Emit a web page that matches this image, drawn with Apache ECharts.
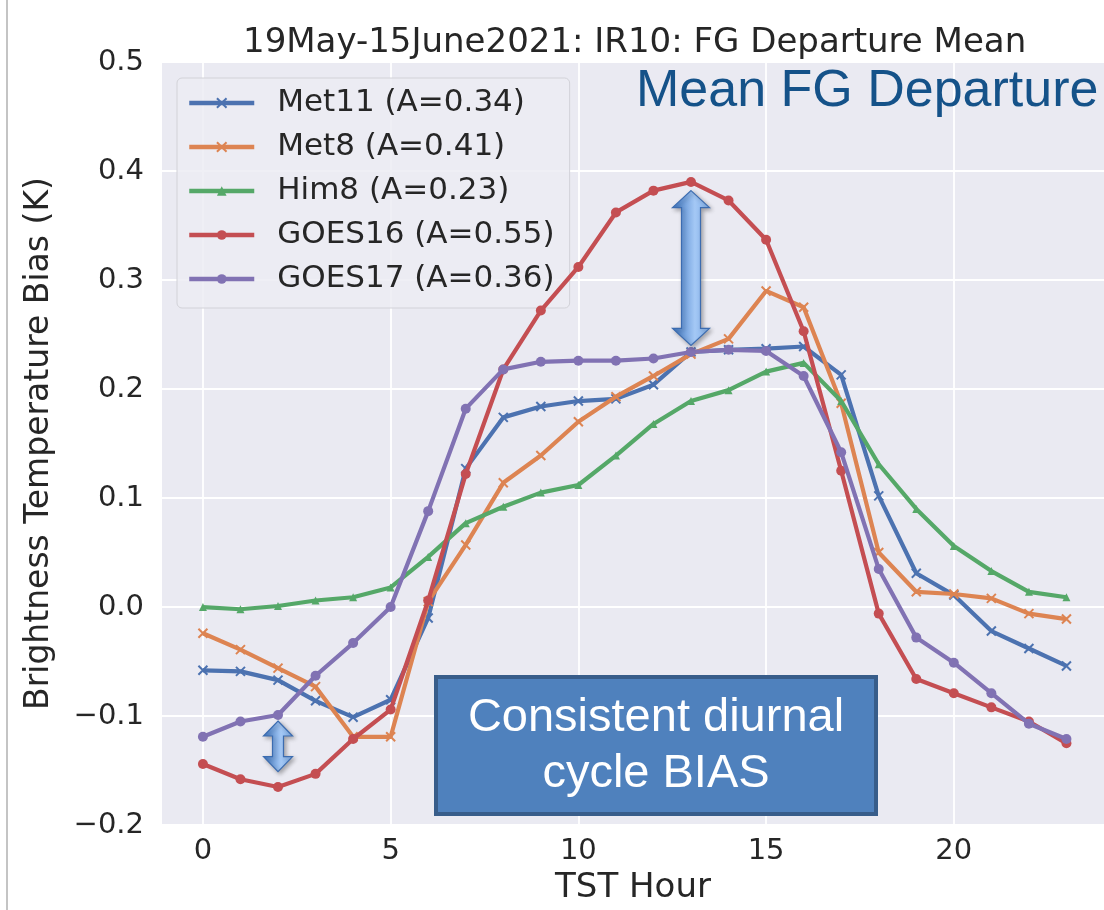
<!DOCTYPE html>
<html><head><meta charset="utf-8">
<script src="https://cdn.jsdelivr.net/npm/echarts@6/dist/echarts.min.js"></script>
<style>html,body{margin:0;padding:0;background:#fff}#c{width:1104px;height:910px}</style>
</head><body><div id="c"></div>
<script>
// ---- data ----
const hours = [0,1,2,3,4,5,6,7,8,9,10,11,12,13,14,15,16,17,18,19,20,21,22,23];
const met11  = [-0.058,-0.059,-0.067,-0.086,-0.101,-0.085,-0.010,0.127,0.174,0.184,0.189,0.191,0.204,0.234,0.236,0.237,0.239,0.213,0.102,0.031,0.011,-0.022,-0.038,-0.054];
const met8   = [-0.024,-0.039,-0.056,-0.073,-0.119,-0.119,0.005,0.057,0.114,0.139,0.170,0.193,0.212,0.232,0.246,0.290,0.275,0.187,0.050,0.014,0.012,0.008,-0.006,-0.011];
const him8   = [0.000,-0.002,0.001,0.006,0.009,0.018,0.046,0.077,0.092,0.105,0.112,0.139,0.168,0.189,0.199,0.216,0.224,0.189,0.131,0.090,0.056,0.033,0.014,0.009];
const goes16 = [-0.144,-0.158,-0.165,-0.153,-0.121,-0.094,0.006,0.122,0.218,0.272,0.312,0.362,0.382,0.390,0.373,0.337,0.253,0.125,-0.006,-0.066,-0.079,-0.092,-0.105,-0.125];
const goes17 = [-0.119,-0.105,-0.099,-0.063,-0.033,0.000,0.088,0.182,0.218,0.225,0.226,0.226,0.228,0.234,0.236,0.235,0.212,0.142,0.035,-0.028,-0.051,-0.079,-0.107,-0.121];
const seriesNames = ['Met11 (A=0.34)','Met8 (A=0.41)','Him8 (A=0.23)','GOES16 (A=0.55)','GOES17 (A=0.36)'];
const xTicks = [0,5,10,15,20];
const titleText = '19May-15June2021: IR10: FG Departure Mean';
const xName = 'TST Hour';
const yName = 'Brightness Temperature Bias (K)';
// annotation anchors (hour, top value, bottom value)
const bigArrow = [13, 0.382, 0.240];
const smallArrow = [2, -0.1045, -0.151];

const colors = ['#4C72B0','#DD8452','#55A868','#C44E52','#8172B3'];
const xSym = 'path://M0,0L10,10M10,0L0,10';
const symbols = [xSym, xSym, 'triangle', 'circle', 'circle'];
const symSizes = [9, 9, 8, 10, 10];
const values = [met11, met8, him8, goes16, goes17];

const chart = echarts.init(document.getElementById('c'), null, {renderer:'canvas'});
const FONT = 'DejaVu Sans';
const series = values.map((arr, k) => ({
  name: seriesNames[k],
  type: 'line',
  data: hours.map((h, i) => [h, arr[i]]),
  symbol: symbols[k],
  symbolSize: symSizes[k],
  showAllSymbol: true,
  lineStyle: {color: colors[k], width: 4.2},
  itemStyle: {color: colors[k], borderColor: colors[k], borderWidth: k < 2 ? 2 : 0},
  emphasis: {disabled: true},
  z: 2 + k
}));

const option = {
  animation: false,
  backgroundColor: '#ffffff',
  title: {
    text: titleText, left: 238, top: 21,
    textStyle: {fontFamily: FONT, fontSize: 34, fontWeight: 'normal', color: '#262626'}
  },
  grid: {left: 162, right: 0, top: 62, bottom: 77, show: true, backgroundColor: '#EAEAF2', borderWidth: 0},
  legend: {
    orient: 'vertical', left: 177, top: 78,
    padding: [8, 15, 12, 10],
    itemWidth: 65, itemHeight: 12, itemGap: 10,
    lineStyle: {width: 4.5},
    backgroundColor: 'rgba(236,236,243,0.85)', borderColor: '#D2D2D8', borderWidth: 1, borderRadius: 5,
    textStyle: {fontFamily: FONT, fontSize: 31, color: '#262626', lineHeight: 34, padding: [0, 0, 0, 18]},
    data: seriesNames
  },
  xAxis: {
    type: 'value', min: -1.09, max: 24,
    name: xName, nameLocation: 'middle', nameGap: 38,
    nameTextStyle: {fontFamily: FONT, fontSize: 34, color: '#262626'},
    axisLine: {show: false}, axisTick: {show: false, customValues: xTicks},
    axisLabel: {customValues: xTicks, fontFamily: FONT, fontSize: 29, color: '#262626', margin: 12},
    splitLine: {show: true, lineStyle: {color: '#ffffff', width: 1.8}}
  },
  yAxis: {
    type: 'value', min: -0.2, max: 0.5, interval: 0.1,
    name: yName, nameLocation: 'middle', nameGap: 106,
    nameTextStyle: {fontFamily: FONT, fontSize: 33, color: '#262626'},
    axisLine: {show: false}, axisTick: {show: false},
    axisLabel: {fontFamily: FONT, fontSize: 29, color: '#262626', margin: 18,
      formatter: v => (v < -1e-9 ? '\u2212' : '') + Math.abs(v).toFixed(1)},
    splitLine: {show: true, lineStyle: {color: '#ffffff', width: 1.8}}
  },
  series: series
};
chart.setOption(option);

function arrowPts(cx, yTop, yBot, sh, hh, hl) {
  return [[cx, yTop],[cx+hh, yTop+hl],[cx+sh, yTop+hl],[cx+sh, yBot-hl],[cx+hh, yBot-hl],[cx, yBot],
          [cx-hh, yBot-hl],[cx-sh, yBot-hl],[cx-sh, yTop+hl],[cx-hh, yTop+hl]];
}
const grad = {type:'linear', x:0, y:0, x2:1, y2:0, colorStops:[
  {offset:0, color:'#3A74C2'},{offset:0.6, color:'#A4C8F5'},{offset:1, color:'#7FAEE9'}]};
function arrowEl(spec, sh, hh, hl) {
  const p1 = chart.convertToPixel({gridIndex:0}, [spec[0], spec[1]]);
  const p2 = chart.convertToPixel({gridIndex:0}, [spec[0], spec[2]]);
  return {type:'polygon', z:100, shape:{points: arrowPts(p1[0], p1[1], p2[1], sh, hh, hl)},
    style:{fill: grad, stroke:'#3C6CB0', lineWidth:1.2, shadowBlur:4, shadowColor:'rgba(0,0,0,0.3)', shadowOffsetX:2, shadowOffsetY:2}};
}

chart.setOption({graphic: [
  {type:'line', z:100, shape:{x1:7, y1:0, x2:7, y2:910}, style:{stroke:'#C4C4C4', lineWidth:2}},
  {type:'text', z:100, left:636, top:66, style:{text:'Mean FG Departure', font:'52px "Liberation Sans", Arial', fill:'#155289'}},
  {type:'rect', z:100, shape:{x:436, y:677, width:440, height:137}, style:{fill:'#4F81BD', stroke:'#385D8A', lineWidth:4}},
  {type:'text', z:101, style:{x:656, y:718, text:'Consistent diurnal', font:'47px "Liberation Sans", Arial', fill:'#ffffff', align:'center', verticalAlign:'middle'}},
  {type:'text', z:101, style:{x:656, y:774, text:'cycle BIAS', font:'47px "Liberation Sans", Arial', fill:'#ffffff', align:'center', verticalAlign:'middle'}},
  arrowEl(bigArrow, 9.5, 18.5, 17),
  arrowEl(smallArrow, 5.5, 14.5, 15)
]});
</script></body></html>
